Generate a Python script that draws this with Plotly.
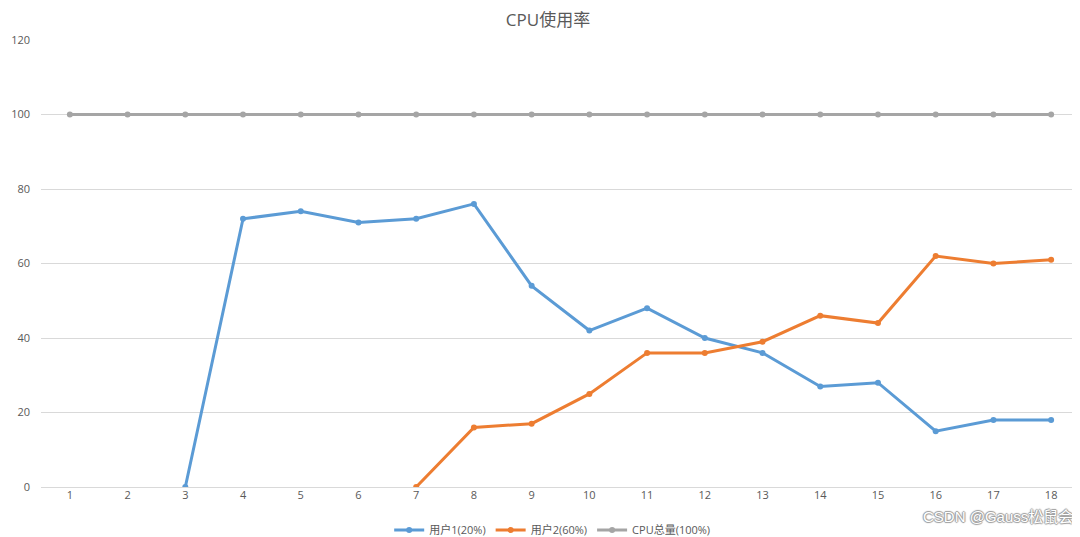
import plotly.graph_objects as go

x_labels = [str(i) for i in range(1, 19)]
user1 = [None, None, 0, 72, 74, 71, 72, 76, 54, 42, 48, 40, 36, 27, 28, 15, 18, 18]
user2 = [None, None, None, None, None, None, 0, 16, 17, 25, 36, 36, 39, 46, 44, 62, 60, 61]
cpu_total = [100] * 18

font_family = 'Open Sans, Noto Sans CJK SC, sans-serif'

fig = go.Figure()
for name, values, color in [
    ('用户1(20%)', user1, '#5B9BD5'),
    ('用户2(60%)', user2, '#ED7D31'),
    ('CPU总量(100%)', cpu_total, '#A5A5A5'),
]:
    fig.add_trace(go.Scatter(
        x=x_labels,
        y=values,
        mode='lines+markers',
        name=name,
        line=dict(color=color, width=3),
        marker=dict(size=6, color=color),
        connectgaps=False,
    ))

# the page body adds an 8px offset, so margins are shifted to compensate
fig.update_layout(
    width=1080,
    height=537,
    title=dict(text='CPU使用率', x=0.5, xanchor='center', y=0.978, yanchor='middle',
               font=dict(size=17, color='#595959', family=font_family)),
    font=dict(family=font_family, color='#595959', size=11),
    margin=dict(l=33, r=8, t=32, b=58, autoexpand=False),
    paper_bgcolor='white',
    plot_bgcolor='white',
    showlegend=True,
    legend=dict(orientation='h', x=0.492, xanchor='center', y=-0.096, yanchor='middle',
                font=dict(size=11, color='#595959')),
    annotations=[dict(
        text='CSDN @Gauss松鼠会', xref='paper', yref='paper', x=1.0, y=-0.067,
        xanchor='right', yanchor='middle', showarrow=False, xshift=-5,
        font=dict(size=15, color='white', family='Liberation Sans, Noto Sans CJK SC',
                  shadow='1px 0px 1px #999, -1px 0px 1px #999, 0px 1px 1px #999, 0px -1px 1px #999'),
    )],
)
fig.update_xaxes(type='category', range=[-0.5, 17.5], showgrid=False, showline=False,
                 ticks='', automargin=False, tickfont=dict(size=11, color='#595959'))
fig.update_yaxes(range=[0, 120], dtick=20, showgrid=True, gridcolor='#D9D9D9',
                 zeroline=True, zerolinecolor='#D9D9D9', zerolinewidth=1, automargin=False,
                 ticks='', ticklabelstandoff=10, tickfont=dict(size=11, color='#595959'))

fig.write_html('out.html')
